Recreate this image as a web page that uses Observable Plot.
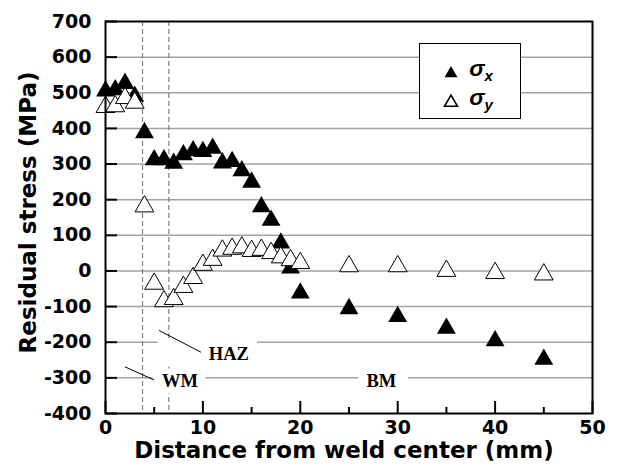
<!DOCTYPE html>
<html><head><meta charset="utf-8">
<script src="https://cdn.jsdelivr.net/npm/d3@7"></script>
<script src="https://cdn.jsdelivr.net/npm/@observablehq/plot@0.6"></script>
<style>body{margin:0;background:#fff;} #chart{width:617px;height:468px;}</style>
</head><body><div id="chart"></div>
<script>
// ---- data ----
const distance = [0,1,2,3,4,5,6,7,8,9,10,11,12,13,14,15,16,17,18,19,20,25,30,35,40,45];
const sigmaX   = [505,508,526,490,388,312,312,302,326,337,335,344,303,307,281,249,180,142,78,8,-62,-106,-128,-161,-196,-248];
const sigmaY   = [460,462,485,472,181,-36,-85,-79,-45,-20,17,31,57,62,66,56,59,50,38,30,22,13,13,0,-6,-10];
const xTicks = [0,10,20,30,40,50];
const xMinorTicks = [5,15,25,35,45];
const yTicks = [-400,-300,-200,-100,0,100,200,300,400,500,600,700];
const gridY = [-300,-200,-100,0,100,200,300,400,500,600];
const zoneBounds = [3.8, 6.5];
const zoneLabels = ["WM","HAZ","BM"];
const zoneLabelX = [5.8, 10.6, 26.8];
const zoneLabelY = [-310, -232, -310];
const zoneBoxX1 = [4.9, 5.4, 26.0];
const zoneBoxX2 = [10.3, 15.6, 31.1];
const zoneBoxY1 = [-345, -270, -345];
const zoneBoxY2 = [-275, -195, -275];
const leaderX1 = [2.0, 5.5];
const leaderY1 = [-269, -167];
const leaderX2 = [5.0, 9.8];
const leaderY2 = [-306, -228];
const seriesNames = ["x","y"];

// ---- layout ----
const W = 617, H = 468, mL = 105, mR = 25, mT = 21, mB = 55;
const frameW = W - mL - mR, frameH = H - mT - mB;

const rows = distance.map((d, i) => ({d, sx: sigmaX[i], sy: sigmaY[i]}));
const labels = zoneLabels.map((t, i) => ({t, x: zoneLabelX[i], y: zoneLabelY[i]}));
const boxes = zoneLabels.map((t, i) => ({x1: zoneBoxX1[i], x2: zoneBoxX2[i], y1: zoneBoxY1[i], y2: zoneBoxY2[i]}));
const leaders = leaderX1.map((x, i) => ({x1: x, y1: leaderY1[i], x2: leaderX2[i], y2: leaderY2[i]}));

function legend() {
  const g = d3.create("svg:g");
  g.append("rect").attr("x", 419.5).attr("y", 43.5).attr("width", 101).attr("height", 75)
    .attr("fill", "white").attr("stroke", "black").attr("stroke-width", 1);
  const tri = d3.symbol(d3.symbolTriangle, Math.PI * 4.8 * 4.8);
  g.append("path").attr("transform", "translate(451,73.5)").attr("d", tri()).attr("fill", "black");
  g.append("path").attr("transform", "translate(451,102.5)").attr("d", tri())
    .attr("fill", "white").attr("stroke", "black").attr("stroke-width", 1.6);
  seriesNames.forEach((s, i) => {
    const t = g.append("text").attr("x", 481).attr("y", 76 + i * 29)
      .attr("font-family", "'Liberation Sans', Arial, sans-serif").attr("font-style", "italic")
      .attr("font-size", 23).attr("fill", "black");
    t.append("tspan").text("σ");
    t.append("tspan").attr("font-size", 15).attr("dy", 5).text(s);
  });
  return g.node();
}

const chart = Plot.plot({
  width: W, height: H,
  marginLeft: mL, marginRight: mR, marginTop: mT, marginBottom: mB,
  style: {fontFamily: "'DejaVu Sans', sans-serif", fontWeight: "bold", background: "white", color: "black"},
  x: {domain: [0, 50], axis: null},
  y: {domain: [-400, 700], axis: null},
  marks: [
    Plot.ruleY(gridY, {y: d => d, stroke: "#a3a3a3", strokeWidth: 1.5}),
    Plot.ruleX(zoneBounds, {x: d => d, stroke: "#808080", strokeWidth: 1.2, strokeDasharray: "5,3"}),
    Plot.rect(boxes, {x1: "x1", x2: "x2", y1: "y1", y2: "y2", fill: "white"}),
    Plot.link(leaders, {x1: "x1", y1: "y1", x2: "x2", y2: "y2", stroke: "black", strokeWidth: 1}),
    Plot.text(labels, {x: "x", y: "y", text: "t", textAnchor: "start", fontFamily: "'Liberation Serif', 'Times New Roman', serif",
      fontWeight: "bold", fontSize: 18.5, fill: "black"}),
    Plot.ruleY(yTicks, {y: d => d, insetRight: frameW - 12, stroke: "black", strokeWidth: 2}),
    Plot.ruleX(xTicks, {x: d => d, insetTop: frameH - 12, stroke: "black", strokeWidth: 2}),
    Plot.ruleX(xMinorTicks, {x: d => d, insetTop: frameH - 6, stroke: "black", strokeWidth: 2}),
    Plot.dot(rows, {x: "d", y: "sx", symbol: "triangle", r: 7, fill: "black", stroke: "none"}),
    Plot.dot(rows, {x: "d", y: "sy", symbol: "triangle", r: 7, fill: "white", stroke: "black", strokeWidth: 1}),
    Plot.frame({stroke: "black", strokeWidth: 2}),
    Plot.axisY(yTicks, {tickSize: 0, tickPadding: 14, fontSize: 19, tickFormat: d => String(d), label: null}),
    Plot.axisX(xTicks, {tickSize: 0, tickPadding: 7, fontSize: 19, tickFormat: d => String(d), label: null}),
    Plot.text(["Distance from weld center (mm)"], {text: d => d, frameAnchor: "bottom", dy: 44, dx: -5,
      textAnchor: "middle", lineAnchor: "bottom", fontSize: 23, fontWeight: "bold", fill: "black"}),
    Plot.text(["Residual stress (MPa)"], {text: d => d, frameAnchor: "left", dx: -70, dy: -5, rotate: -90,
      textAnchor: "middle", lineAnchor: "bottom", fontSize: 23, fontWeight: "bold", fill: "black"}),
    legend
  ]
});
document.getElementById("chart").appendChild(chart);
</script>
</body></html>
